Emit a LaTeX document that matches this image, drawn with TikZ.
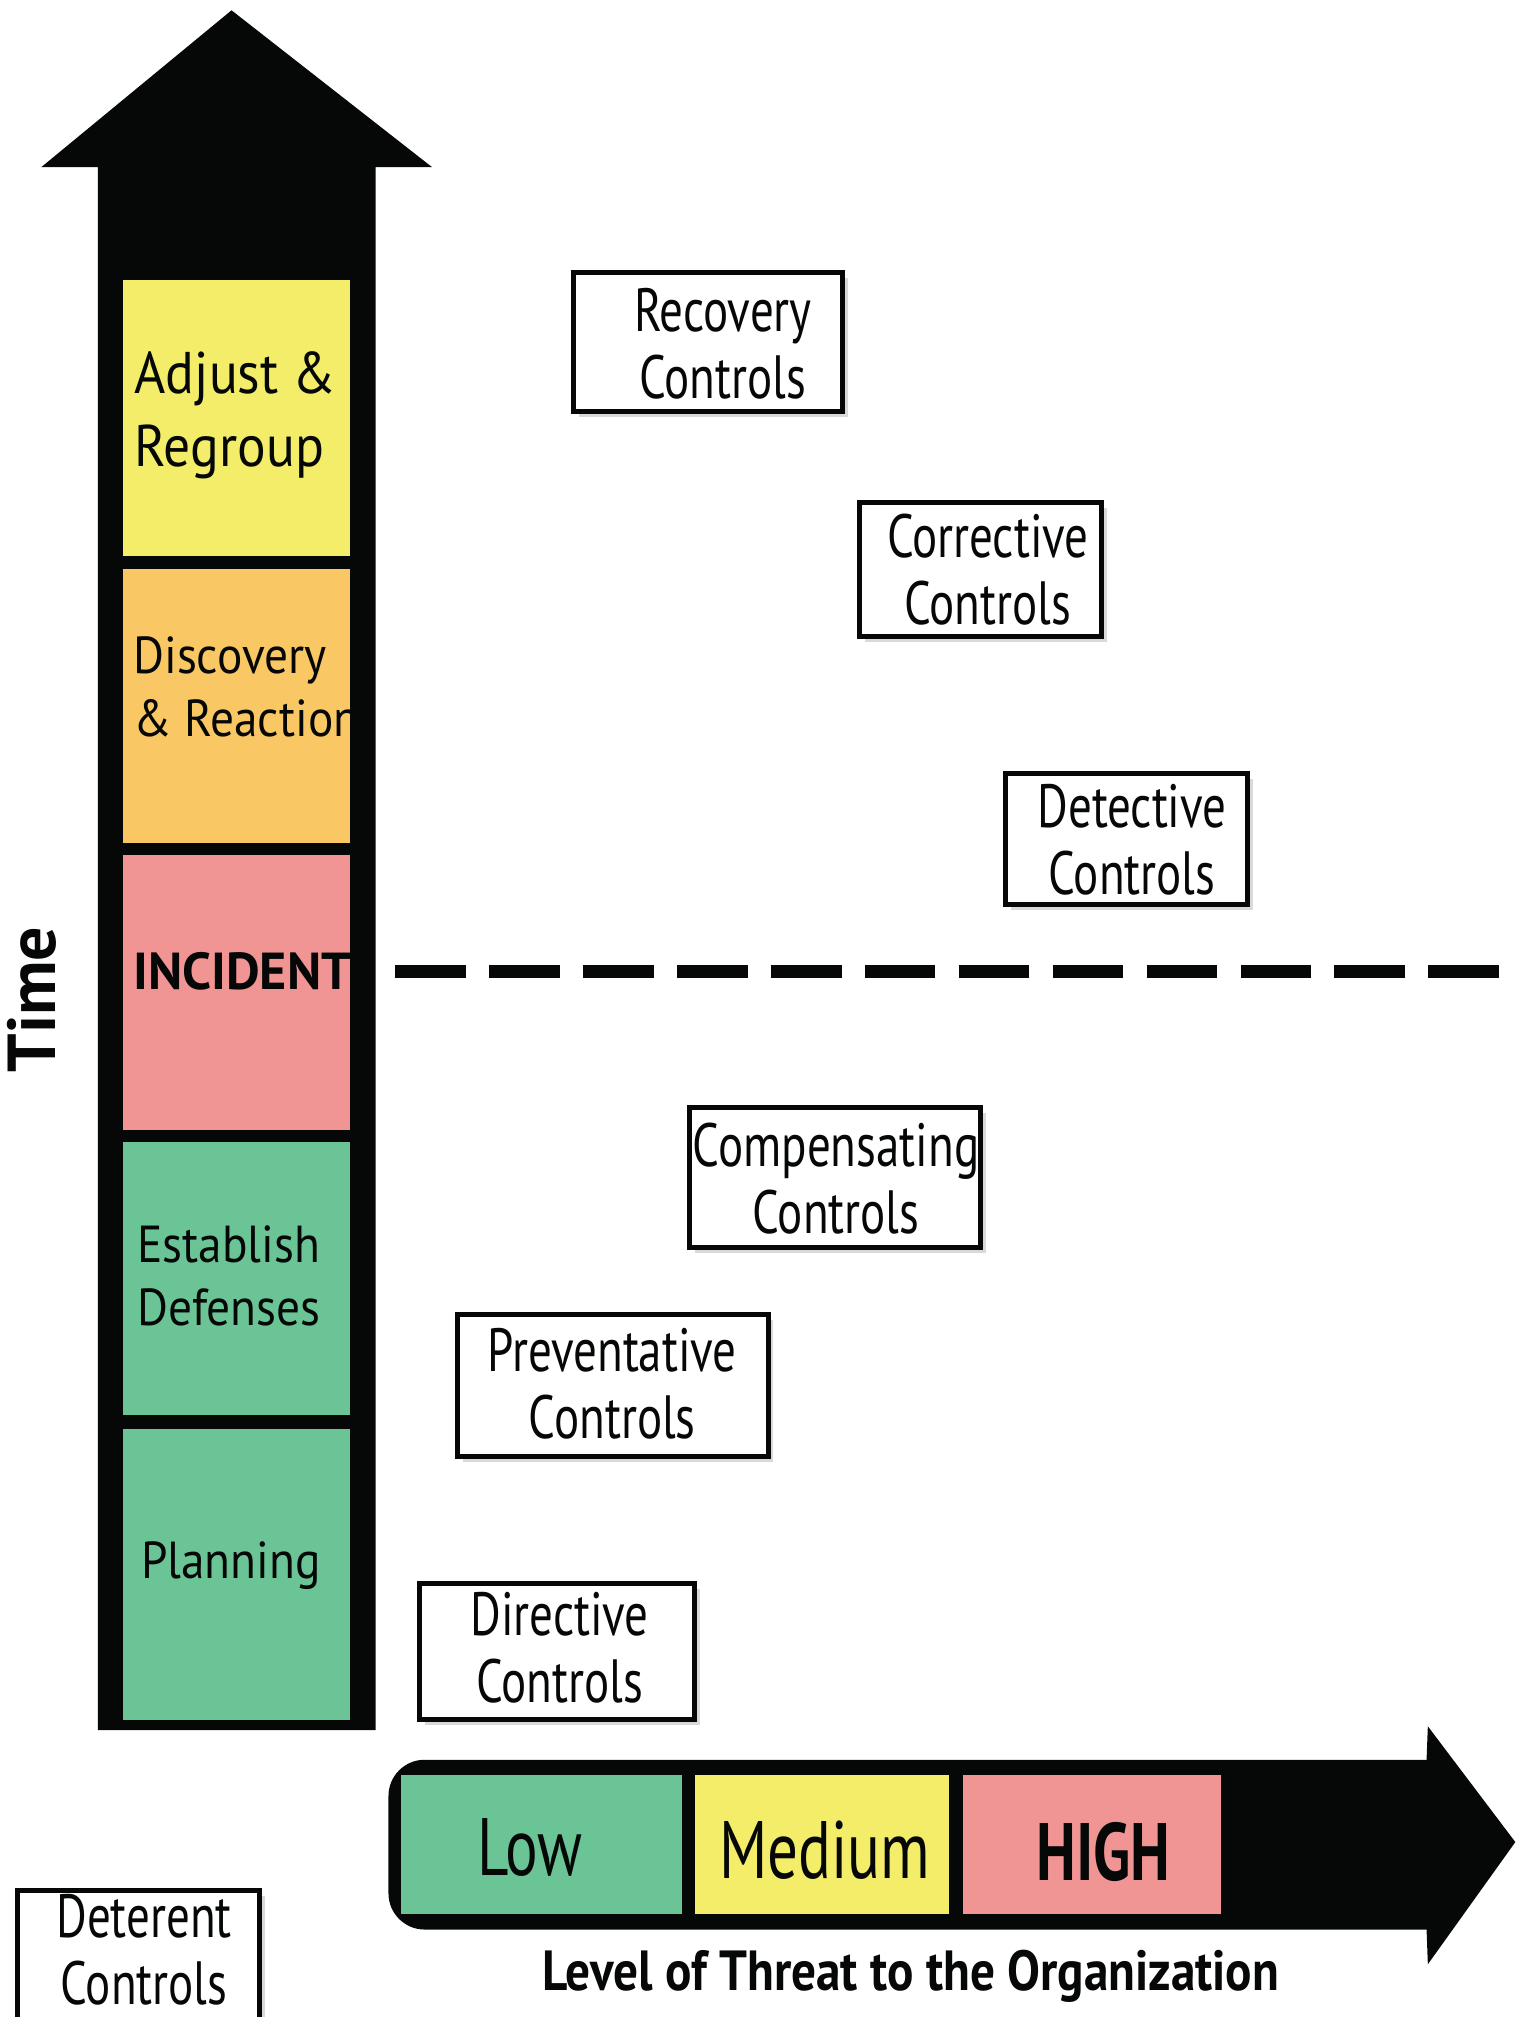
\documentclass[tikz,border=0pt]{standalone}
\usepackage{fontspec}
\setmainfont{PT Sans}
\newfontfamily\phasefont[FakeStretch=0.91]{PT Sans}
\newfontfamily\ctrlfont[FakeStretch=0.77]{PT Sans}
\newfontfamily\levelfont[FakeStretch=0.75]{PT Sans}
\newfontfamily\threatfont[FakeStretch=0.87]{PT Sans}
\usetikzlibrary{shadows}

\definecolor{phyellow}{RGB}{243,237,106}
\definecolor{phorange}{RGB}{249,199,99}
\definecolor{phpink}{RGB}{240,149,148}
\definecolor{phgreen}{RGB}{106,196,149}
\definecolor{inkblack}{RGB}{6,8,8}

\tikzset{
  phasebox/.style={rectangle, inner sep=0pt, minimum width=1.76cm},
  phasetext/.style={anchor=west, align=left, inner sep=0pt, text=inkblack,
    font=\phasefont\fontsize{11.5}{14}\selectfont},
  ctrlbox/.style={rectangle, draw=inkblack, line width=1.1pt, fill=white,
    inner sep=0pt, drop shadow={shadow xshift=1.2pt, shadow yshift=-1.2pt, opacity=0.3}},
  ctrltext/.style={align=center, inner sep=0pt, text=inkblack,
    font=\ctrlfont\fontsize{13.5}{14.8}\selectfont},
  levelbox/.style={rectangle, inner sep=0pt, minimum height=1.08cm},
  leveltext/.style={inner sep=0pt, text=inkblack, font=\levelfont\fontsize{18}{20}\selectfont},
}

\begin{document}
\begin{tikzpicture}[x=0.01cm, y=-0.01cm]
\useasboundingbox (0,0) rectangle (1180,1568);

% vertical time arrow
\fill[inkblack] (76,1345) -- (76,130) -- (32,130) -- (180,8) -- (336,130)
  -- (292,130) -- (292,1345) -- cycle;

% phases stacked in the shaft
\node[phasebox, fill=phyellow, minimum height=2.14cm] (adjust) at (184,325) {};
\node[phasebox, fill=phorange, minimum height=2.13cm] (discovery) at (184,548.5) {};
\node[phasebox, fill=phpink,   minimum height=2.13cm] (incident) at (184,771.5) {};
\node[phasebox, fill=phgreen,  minimum height=2.12cm] (establish) at (184,994) {};
\node[phasebox, fill=phgreen,  minimum height=2.26cm] (planning) at (184,1224) {};

\node[phasetext, font=\phasefont\fontsize{13}{16.2}\selectfont] (adjusttxt) at (104,323) {Adjust \&\\Regroup};
\node[phasetext] (discoverytxt) at (103,534) {Discovery\\\& Reaction};
\node[phasetext, font=\bfseries\fontsize{11.5}{14}\selectfont] (incidenttxt) at (103,755) {INCIDENT};
\node[phasetext] (establishtxt) at (106,992) {Establish\\Defenses};
\node[phasetext] (planningtxt) at (109,1217) {Planning};

\node[rotate=90, inner sep=0pt, text=inkblack, font=\bfseries\fontsize{15}{18}\selectfont] (time) at (25,777) {Time};

% incident threshold
\coordinate (thrL) at (307,755);
\coordinate (thrR) at (1165,755);
\draw[inkblack, line width=2.9pt, dash pattern=on 0.55cm off 0.18cm] (thrL) -- (thrR);

% control types
\node[ctrlbox, minimum width=2.09cm, minimum height=1.08cm] (recovery) at (550.5,266) {};
\node[ctrltext] (recoverytxt) at (562,267) {Recovery\\Controls};
\node[ctrlbox, minimum width=1.88cm, minimum height=1.04cm] (corrective) at (762,443) {};
\node[ctrltext] (correctivetxt) at (768,443) {Corrective\\Controls};
\node[ctrlbox, minimum width=1.88cm, minimum height=1.02cm] (detective) at (876,652) {};
\node[ctrltext] (detectivetxt) at (880,653) {Detective\\Controls};
\node[ctrlbox, minimum width=2.26cm, minimum height=1.09cm] (compensating) at (649,915.5) {};
\node[ctrltext] (compensatingtxt) at (650,916) {Compensating\\Controls};
\node[ctrlbox, minimum width=2.41cm, minimum height=1.10cm] (preventative) at (476.5,1077) {};
\node[ctrltext] (preventativetxt) at (476,1076) {Preventative\\Controls};
\node[ctrlbox, minimum width=2.14cm, minimum height=1.06cm] (directive) at (433,1284) {};
\node[ctrltext] (directivetxt) at (435,1281) {Directive\\Controls};
\node[ctrlbox, minimum width=1.88cm, minimum height=1.10cm] (deterent) at (108,1525) {};
\node[ctrltext] (deterenttxt) at (112,1516) {Deterent\\Controls};

% horizontal threat arrow
\fill[inkblack, rounded corners=8] (1110,1500) -- (302,1500) -- (302,1368) -- (1110,1368);
\fill[inkblack] (1109,1368) -- (1110,1342) -- (1178,1432) -- (1110,1527) -- (1109,1500) -- cycle;

\node[levelbox, fill=phgreen,  minimum width=2.18cm] (low) at (421,1434) {};
\node[levelbox, fill=phyellow, minimum width=1.98cm] (medium) at (639,1434) {};
\node[levelbox, fill=phpink,   minimum width=2.00cm] (high) at (849,1434) {};
\node[leveltext] (lowtxt) at (412,1436) {Low};
\node[leveltext] (mediumtxt) at (641,1438) {Medium};
\node[leveltext, font=\levelfont\bfseries\fontsize{18}{20}\selectfont] (hightxt) at (858,1440) {HIGH};

\node[inner sep=0pt, text=inkblack, font=\threatfont\bfseries\fontsize{12.5}{14}\selectfont] (threat) at (708,1536)
  {Level of Threat to the Organization};
\end{tikzpicture}
\end{document}
